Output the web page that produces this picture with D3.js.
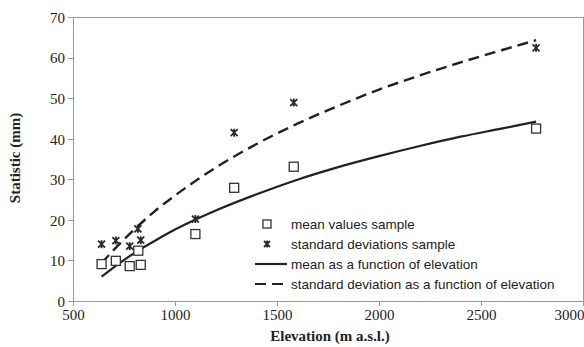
<!DOCTYPE html>
<html>
<head>
<meta charset="utf-8">
<script src="https://cdn.jsdelivr.net/npm/d3@7"></script>
<style>
  body { margin: 0; background: #fff; }
  svg { display: block; }
  .axis-title { font-family: 'Liberation Serif', 'Times New Roman', serif; font-size: 15px; font-weight: bold; fill: #222; }
  .legend-label { font-family: 'Liberation Sans', Arial, sans-serif; font-size: 13.5px; fill: #222; }
</style>
</head>
<body>
<svg width="584" height="347"></svg>
<script>
// Sample points (elevation, statistic)
const sampleElevation = [640, 710, 778, 820, 832, 1100, 1290, 1582, 2770];
const meanValues = [9.1, 9.9, 8.6, 12.4, 8.9, 16.5, 27.9, 33.1, 42.5];
const stdElevation = [640, 710, 778, 818, 832, 1100, 1290, 1582, 2770];
const stdValues = [14.0, 14.9, 13.5, 17.8, 15.0, 20.2, 41.5, 48.9, 62.4];

// Fitted curves
const curveElevation = [640, 700, 800, 900, 1000, 1200, 1400, 1600, 1800, 2000, 2200, 2400, 2600, 2770];
const meanCurve = [6.0, 8.3, 11.8, 14.8, 17.6, 22.3, 26.3, 29.9, 33.0, 35.7, 38.2, 40.5, 42.5, 44.2];
const stdCurve = [9.3, 12.6, 17.6, 22.1, 26.0, 32.9, 38.7, 43.7, 48.1, 52.1, 55.6, 58.8, 61.8, 64.3];

const xTicks = [500, 1000, 1500, 2000, 2500, 3000];
const yTicks = [0, 10, 20, 30, 40, 50, 60, 70];
const legendLabels = [
    'mean values sample',
    'standard deviations sample',
    'mean as a function of elevation',
    'standard deviation as a function of elevation',
];

const margins = { left: 73, top: 17, right: 1, bottom: 46 };
const width = 584, height = 347;
const innerWidth = width - margins.left - margins.right;
const innerHeight = height - margins.top - margins.bottom;
const ink = '#222';
const axisGrey = '#999';
const dash = '11 6';

const svg = d3.select('svg');

const x = d3.scaleLinear().domain([500, 3000]).range([0, innerWidth]);
const y = d3.scaleLinear().domain([0, 70]).range([innerHeight, 0]);

const plot = svg.append('g')
    .attr('transform', `translate(${margins.left}, ${margins.top})`);

// Plot area frame
plot.append('rect')
    .attr('x', 0).attr('y', 0)
    .attr('width', innerWidth).attr('height', innerHeight)
    .attr('fill', 'none')
    .attr('stroke', axisGrey)
    .attr('stroke-width', 1)
    .attr('shape-rendering', 'crispEdges');

// Axes
const xAxis = plot.append('g')
    .attr('transform', `translate(0, ${innerHeight})`)
    .call(d3.axisBottom(x).tickValues(xTicks).tickFormat(d3.format('d'))
        .tickSize(5).tickSizeOuter(0).tickPadding(3));

const yAxis = plot.append('g')
    .call(d3.axisLeft(y).tickValues(yTicks).tickFormat(d3.format('d'))
        .tickSize(5).tickSizeOuter(0).tickPadding(3));

[xAxis, yAxis].forEach((axis) => {
    axis.select('.domain').attr('stroke', axisGrey).attr('shape-rendering', 'crispEdges');
    axis.selectAll('.tick line').attr('stroke', axisGrey).attr('shape-rendering', 'crispEdges');
    axis.selectAll('.tick text')
        .style('font-family', "'Liberation Serif', 'Times New Roman', serif")
        .style('font-size', '15px')
        .attr('fill', ink);
});
yAxis.selectAll('.tick text').attr('dy', '0.36em');

// Last x label sits flush with the right edge
xAxis.selectAll('.tick text')
    .filter((d) => d === 3000)
    .attr('text-anchor', 'end')
    .attr('x', 1);

// Axis titles
svg.append('text')
    .attr('class', 'axis-title')
    .attr('x', margins.left + innerWidth / 2 + 2)
    .attr('y', 341)
    .attr('text-anchor', 'middle')
    .text('Elevation (m a.s.l.)');

svg.append('text')
    .attr('class', 'axis-title')
    .attr('transform', 'translate(20, 158) rotate(-90)')
    .attr('text-anchor', 'middle')
    .text('Statistic (mm)');

// Curves
const line = d3.line()
    .x((d) => x(d.x))
    .y((d) => y(d.y))
    .curve(d3.curveMonotoneX);

const meanLine = curveElevation.map((e, i) => ({ x: e, y: meanCurve[i] }));
const stdLine = curveElevation.map((e, i) => ({ x: e, y: stdCurve[i] }));

plot.append('path')
    .datum(meanLine)
    .attr('d', line)
    .attr('fill', 'none')
    .attr('stroke', ink)
    .attr('stroke-width', 2.2);

plot.append('path')
    .datum(stdLine)
    .attr('d', line)
    .attr('fill', 'none')
    .attr('stroke', ink)
    .attr('stroke-width', 2.4)
    .attr('stroke-dasharray', dash);

// Markers
const squareMarker = (sel, size) => sel.append('rect')
    .attr('x', -size / 2).attr('y', -size / 2)
    .attr('width', size).attr('height', size)
    .attr('fill', '#fff')
    .attr('stroke', '#333')
    .attr('stroke-width', 1.3);

const starMarker = (sel, size) => {
    const h = size / 2;
    sel.append('path')
        .attr('d', `M${-h},${-h}L${h},${h}M${-h},${h}L${h},${-h}M0,${-h - 0.5}L0,${h + 0.5}`)
        .attr('fill', 'none')
        .attr('stroke', '#2a2a2a')
        .attr('stroke-width', 1.8);
};

plot.selectAll('g.mean-point')
    .data(sampleElevation.map((e, i) => ({ x: e, y: meanValues[i] })))
    .join('g')
    .attr('class', 'mean-point')
    .attr('transform', (d) => `translate(${x(d.x)}, ${y(d.y)})`)
    .each(function () { squareMarker(d3.select(this), 9); });

plot.selectAll('g.std-point')
    .data(stdElevation.map((e, i) => ({ x: e, y: stdValues[i] })))
    .join('g')
    .attr('class', 'std-point')
    .attr('transform', (d) => `translate(${x(d.x)}, ${y(d.y)})`)
    .each(function () { starMarker(d3.select(this), 7); });

// Legend
const legend = svg.append('g')
    .attr('transform', 'translate(255, 224)');

const rowGap = 20;
legendLabels.forEach((label, i) => {
    const row = legend.append('g').attr('transform', `translate(0, ${i * rowGap})`);
    if (i === 0) {
        squareMarker(row.append('g').attr('transform', 'translate(12, 0)'), 8);
    } else if (i === 1) {
        starMarker(row.append('g').attr('transform', 'translate(12, 0)'), 6);
    } else {
        row.append('line')
            .attr('x1', 0).attr('x2', 32)
            .attr('y1', 0).attr('y2', 0)
            .attr('stroke', ink)
            .attr('stroke-width', 2.2)
            .attr('stroke-dasharray', i === 3 ? dash : null);
    }
    row.append('text')
        .attr('class', 'legend-label')
        .attr('x', 36)
        .attr('dy', '0.35em')
        .text(label);
});
</script>
</body>
</html>
